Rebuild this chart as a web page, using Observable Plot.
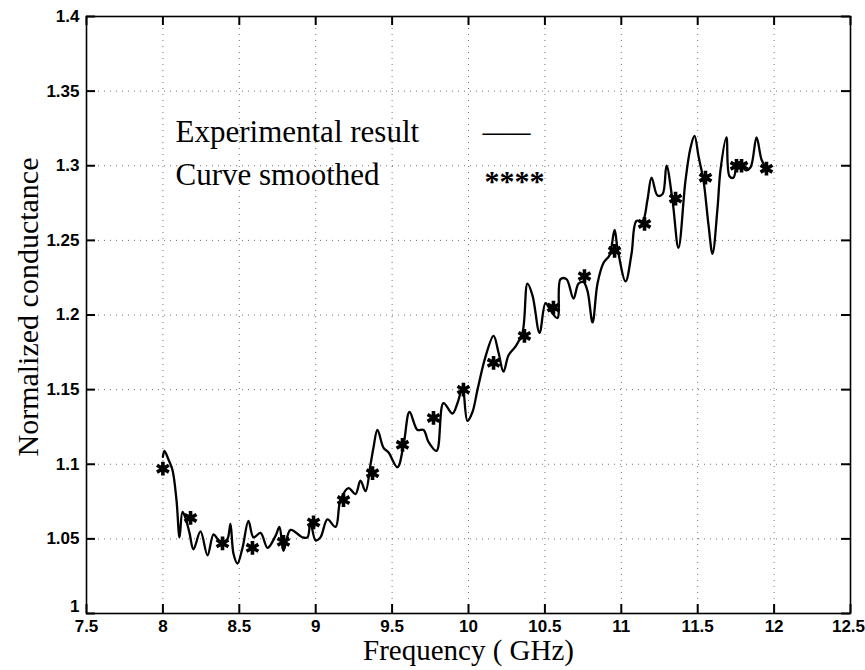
<!DOCTYPE html>
<html>
<head>
<meta charset="utf-8">
<script src="https://cdn.jsdelivr.net/npm/d3@7"></script>
<script src="https://cdn.jsdelivr.net/npm/@observablehq/plot@0.6"></script>
<style>
  html, body { margin: 0; padding: 0; background: #fff; }
  #chart { width: 865px; height: 670px; }
</style>
</head>
<body>
<div id="chart"></div>
<script>
// Experimental result (frequency in GHz, normalized conductance)
const freqExp = [8.000, 8.010, 8.037, 8.063, 8.089, 8.109, 8.128, 8.148, 8.174, 8.200, 8.246, 8.292, 8.331, 8.357, 8.390, 8.423, 8.442, 8.462, 8.488, 8.521, 8.560, 8.593, 8.639, 8.685, 8.737, 8.763, 8.789, 8.835, 8.914, 8.946, 8.966, 8.999, 9.031, 9.077, 9.130, 9.162, 9.215, 9.260, 9.293, 9.326, 9.359, 9.378, 9.404, 9.444, 9.476, 9.535, 9.575, 9.614, 9.666, 9.706, 9.738, 9.791, 9.836, 9.895, 9.928, 9.961, 9.993, 10.026, 10.059, 10.111, 10.164, 10.196, 10.229, 10.262, 10.308, 10.353, 10.386, 10.419, 10.465, 10.504, 10.537, 10.582, 10.602, 10.641, 10.687, 10.720, 10.753, 10.779, 10.812, 10.844, 10.884, 10.923, 10.956, 10.975, 11.028, 11.067, 11.099, 11.139, 11.171, 11.198, 11.237, 11.270, 11.296, 11.335, 11.374, 11.420, 11.453, 11.479, 11.506, 11.538, 11.571, 11.597, 11.630, 11.649, 11.688, 11.708, 11.734, 11.760, 11.780, 11.813, 11.846, 11.885, 11.918, 11.950];
const condExp = [1.105, 1.109, 1.103, 1.096, 1.076, 1.051, 1.068, 1.064, 1.054, 1.043, 1.055, 1.039, 1.053, 1.050, 1.047, 1.050, 1.060, 1.040, 1.0335, 1.044, 1.062, 1.051, 1.054, 1.044, 1.052, 1.058, 1.042, 1.056, 1.051, 1.051, 1.061, 1.049, 1.051, 1.063, 1.058, 1.076, 1.084, 1.080, 1.089, 1.082, 1.100, 1.111, 1.123, 1.111, 1.108, 1.098, 1.113, 1.135, 1.123, 1.123, 1.115, 1.109, 1.141, 1.134, 1.141, 1.151, 1.129, 1.135, 1.150, 1.172, 1.186, 1.175, 1.162, 1.173, 1.179, 1.188, 1.221, 1.213, 1.188, 1.208, 1.203, 1.198, 1.224, 1.224, 1.211, 1.221, 1.222, 1.216, 1.195, 1.221, 1.235, 1.240, 1.257, 1.245, 1.2225, 1.241, 1.263, 1.263, 1.277, 1.292, 1.280, 1.281, 1.300, 1.277, 1.245, 1.290, 1.312, 1.320, 1.306, 1.290, 1.260, 1.241, 1.272, 1.297, 1.319, 1.293, 1.292, 1.302, 1.302, 1.297, 1.299, 1.319, 1.304, 1.298];

// Curve smoothed (asterisk markers)
const freqSmooth = [8.000, 8.181, 8.390, 8.586, 8.789, 8.986, 9.182, 9.372, 9.568, 9.771, 9.967, 10.164, 10.366, 10.556, 10.759, 10.956, 11.152, 11.355, 11.551, 11.754, 11.787, 11.950];
const condSmooth = [1.097, 1.064, 1.047, 1.044, 1.048, 1.061, 1.076, 1.094, 1.113, 1.131, 1.150, 1.168, 1.186, 1.205, 1.226, 1.243, 1.261, 1.278, 1.292, 1.300, 1.300, 1.298];

const xTicks = [7.5, 8, 8.5, 9, 9.5, 10, 10.5, 11, 11.5, 12, 12.5];
const yTicks = [1, 1.05, 1.1, 1.15, 1.2, 1.25, 1.3, 1.35, 1.4];
const xLabel = "Frequency ( GHz)";
const yLabel = "Normalized conductance";
const legendLabels = ["Experimental result", "Curve smoothed"];
const legendSamples = ["\u2014\u2014", "****"];

const expData = freqExp.map((f, i) => ({f, g: condExp[i]}));
const smoothData = freqSmooth.map((f, i) => ({f, g: condSmooth[i]}));

const serif = "'Liberation Serif', 'DejaVu Serif', serif";
const grid = {stroke: "#000", strokeOpacity: 0.55, strokeDasharray: "1,5", strokeWidth: 1};

const W = 865, H = 670, ML = 86, MR = 15, MT = 16, MB = 57;
const FW = W - ML - MR, FH = H - MT - MB, TICK = 9;
const xDom = [xTicks[0], xTicks[xTicks.length - 1]];
const yDom = [yTicks[0], yTicks[yTicks.length - 1]];
const tx = TICK * (xDom[1] - xDom[0]) / FW; // tick length in x units
const ty = TICK * (yDom[1] - yDom[0]) / FH; // tick length in y units
const tickStyle = {stroke: "#000", strokeWidth: 2};
const n = xTicks.length;

const chart = Plot.plot({
  width: W,
  height: H,
  marginLeft: ML,
  marginRight: MR,
  marginTop: MT,
  marginBottom: MB,
  style: {
    fontFamily: "'Liberation Sans Narrow', 'Liberation Sans', Arial, sans-serif",
    fontSize: "17px",
    fontWeight: "bold",
    color: "#000",
    background: "#fff"
  },
  x: {domain: xDom},
  y: {domain: yDom},
  marks: [
    Plot.gridX(xTicks, grid),
    Plot.gridY(yTicks, grid),
    Plot.frame({stroke: "#000", strokeWidth: 1.6}),
    Plot.axisX({ticks: xTicks.slice(0, n - 1), tickSize: 0, tickPadding: 6, tickFormat: d => String(d), label: null}),
    Plot.axisX({ticks: xTicks.slice(n - 1), tickSize: 0, tickPadding: 6, dx: -2, tickFormat: d => String(d), label: null}),
    Plot.axisY({ticks: yTicks.slice(1), tickSize: 0, tickPadding: 7, tickFormat: d => String(d), label: null}),
    Plot.axisY({ticks: yTicks.slice(0, 1), tickSize: 0, tickPadding: 7, dy: -7, tickFormat: d => String(d), label: null}),
    // inward tick marks on all four sides
    Plot.ruleX(xTicks, {x: d => d, y1: yDom[0], y2: yDom[0] + ty, ...tickStyle}),
    Plot.ruleX(xTicks, {x: d => d, y1: yDom[1] - ty, y2: yDom[1], ...tickStyle}),
    Plot.ruleY(yTicks, {y: d => d, x1: xDom[0], x2: xDom[0] + tx, ...tickStyle}),
    Plot.ruleY(yTicks, {y: d => d, x1: xDom[1] - tx, x2: xDom[1], ...tickStyle}),
    Plot.line(expData, {x: "f", y: "g", stroke: "#000", strokeWidth: 2.3, curve: "catmull-rom"}),
    Plot.dot(smoothData, {x: "f", y: "g", symbol: "asterisk", r: 6.5, stroke: "#000", strokeWidth: 3.6}),
    // axis titles
    Plot.text([xLabel], {frameAnchor: "bottom", text: d => d, dy: 37, lineAnchor: "middle", textAnchor: "middle", fontFamily: serif, fontSize: 29, fontWeight: "normal", fill: "#000"}),
    Plot.text([yLabel], {frameAnchor: "left", text: d => d, dx: -58, dy: -8, rotate: -90, lineAnchor: "middle", textAnchor: "middle", fontFamily: serif, fontSize: 30, fontWeight: "normal", fill: "#000"}),
    // legend
    Plot.text([legendLabels[0]], {frameAnchor: "top-left", text: d => d, dx: 89, dy: 116, textAnchor: "start", lineAnchor: "middle", fontFamily: serif, fontSize: 31, fontWeight: "normal", fill: "#000"}),
    Plot.text([legendLabels[1]], {frameAnchor: "top-left", text: d => d, dx: 89, dy: 159, textAnchor: "start", lineAnchor: "middle", fontFamily: serif, fontSize: 31, fontWeight: "normal", fill: "#000"}),
    Plot.text([legendSamples[0]], {frameAnchor: "top-left", text: d => d, dx: 396, dy: 116, textAnchor: "start", lineAnchor: "middle", fontFamily: serif, fontSize: 24, fontWeight: "bold", fill: "#000"}),
    Plot.text([legendSamples[1]], {frameAnchor: "top-left", text: d => d, dx: 398, dy: 165, textAnchor: "start", lineAnchor: "middle", fontFamily: serif, fontSize: 30, fontWeight: "bold", fill: "#000"})
  ]
});
document.getElementById("chart").appendChild(chart);
</script>
</body>
</html>
